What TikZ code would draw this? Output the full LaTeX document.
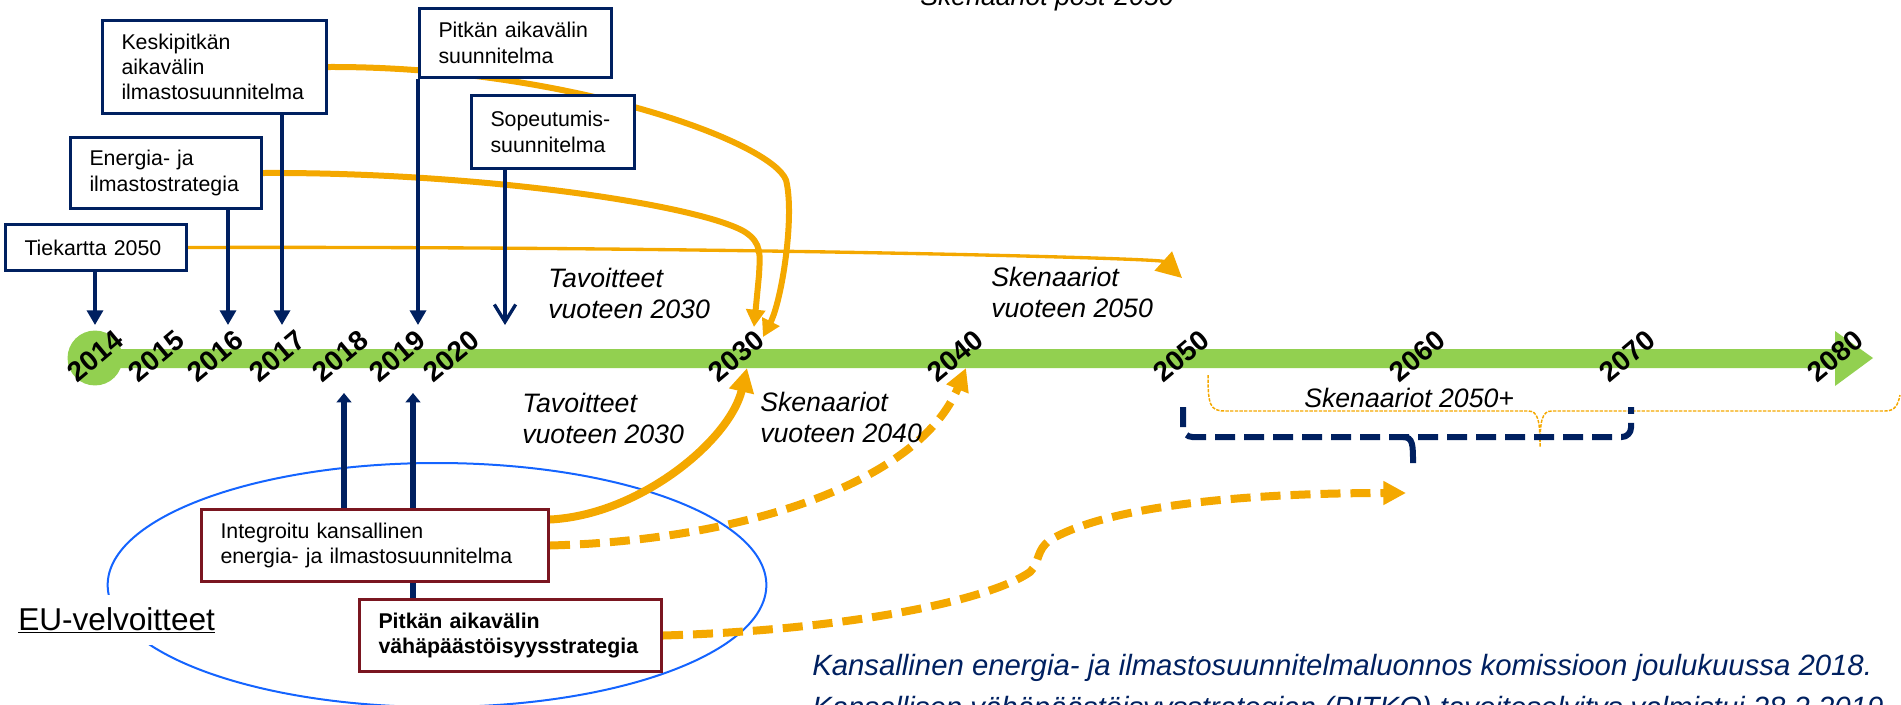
\documentclass[tikz,border=0pt]{standalone}
\usepackage{fontspec}
\setmainfont{Liberation Sans}
\usetikzlibrary{arrows.meta,shapes.geometric,calc}
\definecolor{navy}{RGB}{0,32,96}
\definecolor{tkorange}{RGB}{244,168,0}
\definecolor{tkgreen}{RGB}{146,208,80}
\definecolor{maroon}{RGB}{122,22,32}
\definecolor{eublue}{RGB}{20,100,255}
\pgfdeclarelayer{bg}
\pgfdeclarelayer{mid}
\pgfsetlayers{bg,mid,main}
\hyphenpenalty=10000
\exhyphenpenalty=10000
\begin{document}
\begin{tikzpicture}[x=0.75pt,y=-0.75pt,
  navybox/.style={draw=navy, line width=2.25pt, fill=white, rectangle, anchor=north west,
    inner xsep=14.25pt, inner ysep=0pt, align=left,
    font=\fontsize{16}{19}\selectfont},
  redbox/.style={navybox, draw=maroon},
  yearlbl/.style={font=\fontsize{21}{23}\selectfont\bfseries, rotate=40, inner sep=0pt},
  itlbl/.style={font=\fontsize{20}{23}\selectfont\itshape, align=left, inner sep=0pt, anchor=base west},
  navyarr/.style={draw=navy, line width=2.5pt, -{Triangle[length=11pt,width=12pt]}},
  navyopen/.style={draw=navy, line width=2.5pt, -{Straight Barb[length=13pt,width=16pt,line width=2.5pt]}},
  navyup/.style={draw=navy, line width=4pt, -{Triangle[length=7pt,width=11pt]}},
  orthin/.style={draw=tkorange, line width=2.5pt, -{Triangle[length=19pt,width=19pt]}},
  orng/.style={draw=tkorange, line width=4.5pt, -{Triangle[length=13pt,width=14pt]}},
  orngthick/.style={draw=tkorange, line width=6pt, -{Triangle[length=18pt,width=18pt]}},
  orngdash/.style={draw=tkorange, line width=6pt, dash pattern=on 15pt off 7.5pt, -{Triangle[length=17pt,width=17pt]}},
]
\useasboundingbox (0,0) rectangle (1901,704);

% ---------- background: timeline bar and EU ellipse
\begin{pgfonlayer}{bg}
\fill[tkgreen] (95,358) circle[radius=20.6pt];
\fill[tkgreen] (95,349) -- (1835,349) -- (1835,331) -- (1873,358) -- (1835,386) -- (1835,368) -- (95,368) -- cycle;
\node[draw=eublue, line width=1.5pt, ellipse, minimum width=494pt, minimum height=183pt, inner sep=0pt] (eu) at (437,585) {};
\end{pgfonlayer}

% ---------- boxes
\node[navybox, text width=107.25pt, minimum height=34.5pt] (tk) at (4,223) {Tiekartta 2050};
\node[navybox, text width=114.75pt, minimum height=53.25pt] (en) at (69,136) {Energia- ja\\ilmastostrategia};
\node[navybox, text width=139.5pt, minimum height=69.75pt] (ks) at (101,19) {Keskipitkän\\aikavälin\\ilmastosuunnitelma};
\node[navybox, text width=115.5pt, minimum height=51.75pt] (ps) at (418,7) {Pitkän aikavälin\\suunnitelma};
\node[navybox, text width=93.75pt, minimum height=54.75pt] (so) at (470,94) {Sopeutumis-\\suunnitelma};
\node[redbox, text width=231.75pt, minimum height=54pt] (ig) at (200,508) {Integroitu kansallinen\\energia- ja ilmastosuunnitelma};
\node[redbox, text width=198pt, minimum height=54pt, font=\fontsize{16}{19}\selectfont\bfseries] (pv) at (358,598) {Pitkän aikavälin\\vähäpäästöisyysstrategia};

\node[font=\fontsize{23.7}{28}\selectfont, fill=white, inner xsep=0pt, inner ysep=9pt, anchor=base west] (eulbl) at (18,630) {\underline{EU-velvoitteet}};

% ---------- end points
\coordinate (t14) at (95,325);
\coordinate (t16) at (228,325);
\coordinate (t17) at (282,325);
\coordinate (t19) at (418,325);
\coordinate (t20) at (505,325);
\coordinate (u18) at (344,393);
\coordinate (u19) at (413,393);
\coordinate (aend) at (1182,278);
\coordinate (b30) at (754,327);
\coordinate (c30) at (763,337);
\coordinate (d30) at (747,368);
\coordinate (e40) at (966,368);
\coordinate (fend) at (1406,493);

% ---------- connectors
\begin{pgfonlayer}{mid}
\draw[orthin] (tk.east) .. controls (700,246) and (1160,258) .. (aend);
\draw[orng] (en.east) .. controls (480,172) and (700,205) .. (745,232) .. controls (762,243) and (760,255) .. (759,275) -- (b30);
\draw[orng] (ks.east) .. controls (560,66) and (770,140) .. (786,180) .. controls (795,215) and (782,300) .. (c30);
\draw[orngthick] ([yshift=19.5pt]ig.east) .. controls (640,515) and (730,440) .. (d30);
\draw[orngdash] (ig.east) .. controls (750,540) and (920,480) .. (e40);
\draw[orngdash] (pv.east) .. controls (850,630) and (990,600) .. (1030,572) .. controls (1040,562) and (1036,550) .. (1050,540) .. controls (1110,505) and (1250,493) .. (fend);

\draw[navyarr] (tk.south -| t14) -- (t14);
\draw[navyarr] (en.south -| t16) -- (t16);
\draw[navyarr] (ks.south -| t17) -- (t17);
\draw[navyarr] (ps.south west) -- (t19);
\draw[navyopen] (so.south -| t20) -- (t20);
\draw[navyup] (ig.north -| u18) -- (u18);
\draw[navyup] (pv.north -| u19) -- (u19);

% braces
\draw[tkorange, line width=1.1pt, dash pattern=on 2.5pt off 1pt]
  (1208,375) .. controls (1208,405) and (1210,411) .. (1225,411) -- (1528,411)
  .. controls (1538,411) and (1540,420) .. (1540,447)
  .. controls (1540,420) and (1542,411) .. (1552,411) -- (1885,411)
  .. controls (1895,411) and (1898,405) .. (1900,395);
\draw[navy, line width=4.5pt, dash pattern=on 15pt off 6.75pt, rounded corners=7pt]
  (1183,407) -- (1183,437) -- (1631,437) -- (1631,407);
\draw[navy, line width=4.5pt] (1403,437) .. controls (1413,437) and (1413,445) .. (1413,463);
\end{pgfonlayer}

% ---------- year labels
\foreach \yr/\xx in {2014/95,2015/156,2016/215,2017/277,2018/340,2019/397,2020/451,2030/736,2040/955,2050/1181,2060/1417,2070/1627,2080/1835}
  \node[yearlbl] (y\yr) at (\xx,356) {\yr};

% ---------- italic labels (anchor = baseline of last line)
\node[itlbl] (tav1) at (548,318) {Tavoitteet\\vuoteen 2030};
\node[itlbl] (tav2) at (522,443) {Tavoitteet\\vuoteen 2030};
\node[itlbl] (sk40) at (760,442) {Skenaariot\\vuoteen 2040};
\node[itlbl] (sk50) at (991,317) {Skenaariot\\vuoteen 2050};
\node[itlbl] (sk50p) at (1304,407) {Skenaariot 2050+};
\node[itlbl] (post) at (920,5) {Skenaariot post-2050};
\node[font=\fontsize{22}{31.5}\selectfont\itshape, text=navy, align=left, anchor=base west, inner sep=0pt] (note) at (812,717)
  {Kansallinen energia- ja ilmastosuunnitelmaluonnos komissioon joulukuussa 2018.\\Kansallisen vähäpäästöisyysstrategian (PITKO) tavoiteselvitys valmistui 28.2.2019};
\end{tikzpicture}
\end{document}
